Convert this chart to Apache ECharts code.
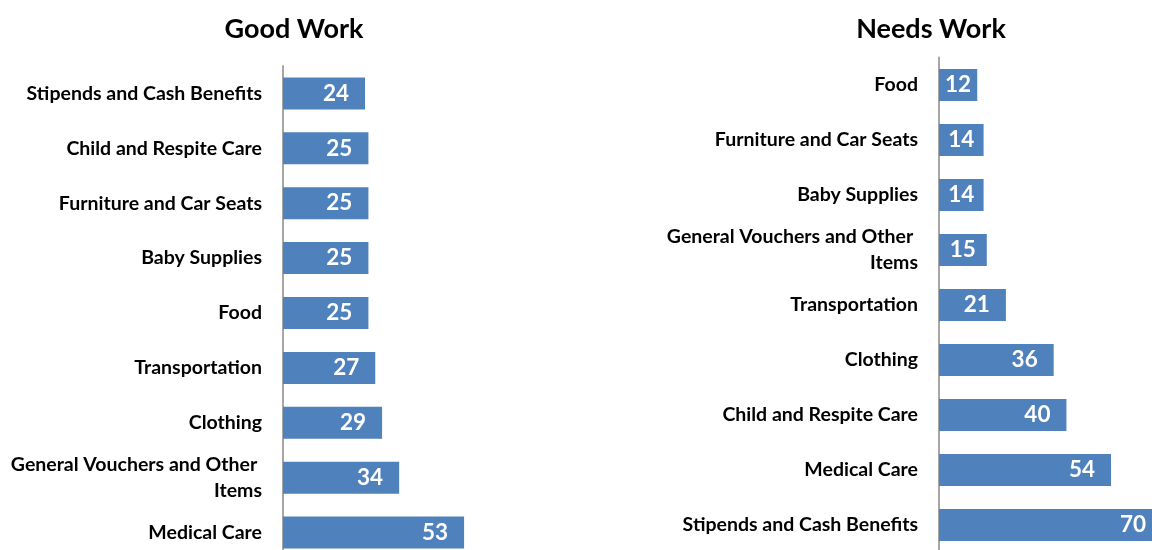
<!DOCTYPE html>
<html><head><meta charset="utf-8">
<script src="https://cdn.jsdelivr.net/npm/echarts@6/dist/echarts.min.js"></script>
<style>html,body{margin:0;padding:0;background:#fff;overflow:hidden;width:1152px;height:550px}#c{width:1180px;height:570px}</style>
</head><body><div id="c"></div>
<script>
const goodCategories = ["Stipends and Cash Benefits","Child and Respite Care","Furniture and Car Seats","Baby Supplies","Food","Transportation","Clothing","General Vouchers and Other Items","Medical Care"];
const goodValues = [24,25,25,25,25,27,29,34,53];
const needsCategories = ["Food","Furniture and Car Seats","Baby Supplies","General Vouchers and Other Items","Transportation","Clothing","Child and Respite Care","Medical Care","Stipends and Cash Benefits"];
const needsValues = [12,14,14,15,21,36,40,54,70];
const titles = ["Good Work","Needs Work"];

const FONT = 'Lato';
const barColor = '#4f81bd';
const catLabel = {fontFamily:FONT,fontWeight:'bold',fontSize:19.5,color:'#000',margin:21,width:256,overflow:'break',lineHeight:26};
const yAxisBase = {type:'category',inverse:true,axisTick:{show:false},axisLine:{show:true,lineStyle:{color:'#a6a6a6',width:2}},axisLabel:catLabel};
const xAxisBase = {type:'value',min:0,show:false,splitLine:{show:false}};

const G = [{left:283,top:66,width:205,height:494,max:60},{left:939,top:57.5,width:223,height:495,max:70}];

function items(values, g){
  const scale = g.width / g.max;
  return values.map(v => {
    const px = v * scale;
    const d = Math.max(3, Math.min(16, (px - 26) / 2));
    return {value:v, label:{distance:d}};
  });
}
const valLabel = {show:true,position:'insideRight',fontFamily:FONT,fontWeight:'bold',fontSize:22.5,color:'#fff'};

const chart = echarts.init(document.getElementById('c'));
chart.setOption({
  animation:false,
  title:[
    {text:titles[0],left:289,top:11,textAlign:'center',textStyle:{fontFamily:FONT,fontWeight:'bold',fontSize:27,color:'#000'}},
    {text:titles[1],left:926,top:11,textAlign:'center',textStyle:{fontFamily:FONT,fontWeight:'bold',fontSize:27,color:'#000'}}
  ],
  grid:G.map(g=>({left:g.left,top:g.top,width:g.width,height:g.height})),
  xAxis:[
    Object.assign({gridIndex:0,max:G[0].max},xAxisBase),
    Object.assign({gridIndex:1,max:G[1].max},xAxisBase)
  ],
  yAxis:[
    Object.assign({gridIndex:0,data:goodCategories},yAxisBase),
    Object.assign({gridIndex:1,data:needsCategories},yAxisBase)
  ],
  series:[
    {type:'bar',xAxisIndex:0,yAxisIndex:0,data:items(goodValues,G[0]),barWidth:32,itemStyle:{color:barColor},label:valLabel},
    {type:'bar',xAxisIndex:1,yAxisIndex:1,data:items(needsValues,G[1]),barWidth:32,itemStyle:{color:barColor},label:valLabel}
  ]
});
</script></body></html>
